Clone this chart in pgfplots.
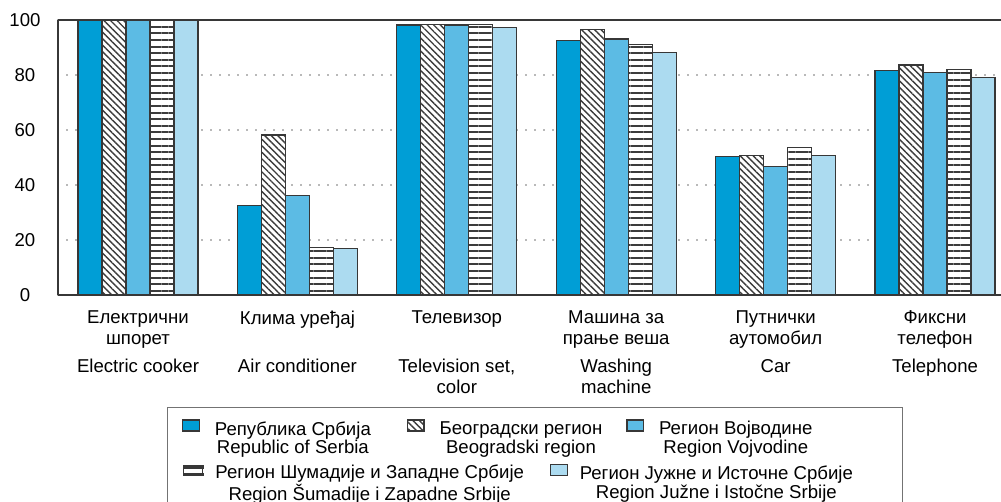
\documentclass[border=0pt]{standalone}
\usepackage{fontspec}
\setmainfont{Liberation Sans}
\usepackage{pgfplots}
\pgfplotsset{compat=1.18}
\usetikzlibrary{patterns.meta}
\definecolor{cA}{RGB}{0,158,214}
\definecolor{cC}{RGB}{92,187,228}
\definecolor{cE}{RGB}{172,219,240}
\definecolor{edge}{RGB}{55,55,55}
\definecolor{hatch}{RGB}{60,60,60}
\pgfplotsset{
  boxlegend/.style={legend image code/.code={\draw[##1] (0pt,4pt) rectangle (8.3pt,9.5pt);}},
  stripelegend/.style={legend image code/.code={
    \draw[edge, fill=white, line width=0.5pt] (0pt,4pt) rectangle (9.5pt,9pt);
    \fill[edge] (0pt,7.7pt) rectangle (9.5pt,9pt);
    \fill[edge] (0pt,4pt) rectangle (9.5pt,5.3pt);}},
}

\begin{document}
\begin{tikzpicture}
\useasboundingbox (0,0) rectangle (500.5pt,251pt);
\fill[white] (0,0) rectangle (500.5pt,251pt);
\begin{axis}[
  at={(29pt,103.5pt)}, anchor=south west,
  scale only axis, width=471.5pt, height=137.5pt,
  xmin=-0.502, xmax=5.414, ymin=0, ymax=100,
  axis x line*=box, axis y line*=left,
  ybar=0pt, bar width=12pt,
  xtick={0,...,5},
  xticklabels={
    {Електрични\\шпорет\\[3.2pt]Electric cooker},
    {Клима уређај\\\mbox{}\\[3.2pt]Air conditioner},
    {Телевизор\\\mbox{}\\[3.2pt]Television set,\\color},
    {Машина за\\прање веша\\[3.2pt]Washing\\machine},
    {Путнички\\аутомобил\\[3.2pt]Car},
    {Фиксни\\телефон\\[3.2pt]Telephone}},
  ytick={0,20,40,60,80,100},
  major tick length=0pt,
  ymajorgrids,
  grid style={black!55, line width=0.9pt, dash pattern=on 0pt off 4.5pt, line cap=round},
  axis line style={edge, line width=0.7pt},
  tick label style={font=\fontsize{9.3}{10.5}\selectfont},
  yticklabel style={anchor=center, xshift=-16.5pt},
  xticklabel style={anchor=north, align=center, inner sep=0pt, yshift=-7.8pt},
  /pgf/number format/assume math mode=true,
  legend columns=3,
  legend style={draw=none, fill=none, inner sep=0pt,
    at={(axis description cs:0.1312,-0.4437)}, anchor=north west,
    font=\fontsize{9.3}{9.2}\selectfont,
    cells={align=center},
    /tikz/column 1/.style={column sep=5.5pt},
    /tikz/column 2/.style={column sep=16pt},
    /tikz/column 3/.style={column sep=5.5pt},
    /tikz/column 4/.style={column sep=10pt},
    /tikz/column 5/.style={column sep=5.5pt}},
]
\addplot[fill=cA, draw=edge, line width=0.6pt, boxlegend]
  coordinates {(0,100) (1,32.5) (2,98.2) (3,92.4) (4,50.3) (5,81.6)};
\addlegendentry{Република Србија\\Republic of Serbia}
\addplot[fill=white, draw=edge, line width=0.6pt,
  postaction={pattern={Lines[angle=-45,distance=2.3pt,line width=0.7pt]}, pattern color=hatch},
  boxlegend]
  coordinates {(0,100) (1,58.2) (2,98.5) (3,96.6) (4,50.7) (5,83.6)};
\addlegendentry{Београдски регион\\Beogradski region}
\addplot[fill=cC, draw=edge, line width=0.6pt, boxlegend]
  coordinates {(0,100) (1,36.1) (2,98.2) (3,93.1) (4,46.7) (5,80.8)};
\addlegendentry{Регион Војводине\\Region Vojvodine}
\addplot[fill=white, draw=edge, line width=0.6pt,
  postaction={pattern={Lines[angle=0,distance=3.3pt,line width=1pt]}, pattern color=hatch}]
  coordinates {(0,100) (1,17.3) (2,98.4) (3,91.2) (4,53.7) (5,82.1)};
\addplot[fill=cE, draw=edge, line width=0.6pt]
  coordinates {(0,100) (1,17.0) (2,97.3) (3,88.1) (4,50.7) (5,79.2)};
\end{axis}
\begin{axis}[
  at={(29pt,103.5pt)}, anchor=south west,
  scale only axis, width=471.5pt, height=137.5pt,
  hide axis, xmin=0, xmax=1, ymin=0, ymax=1,
  legend columns=2,
  legend style={draw=none, fill=none, inner sep=0pt,
    at={(axis description cs:0.1326,-0.600)}, anchor=north west,
    font=\fontsize{9.3}{9.2}\selectfont,
    cells={align=center},
    /tikz/column 1/.style={column sep=4pt},
    /tikz/column 2/.style={column sep=11pt},
    /tikz/column 3/.style={column sep=4pt}},
]
\addlegendimage{stripelegend}
\addlegendentry{Регион Шумадије и Западне Србије\\Region Šumadije i Zapadne Srbije}
\addlegendimage{fill=cE, draw=edge, line width=0.6pt, boxlegend}
\addlegendentry{Регион Јужне и Источне Србије\\Region Južne i Istočne Srbije}
\end{axis}
\draw[black!55, line width=0.5pt] (83.5pt,47pt) rectangle (451pt,-5pt);
\end{tikzpicture}
\end{document}
